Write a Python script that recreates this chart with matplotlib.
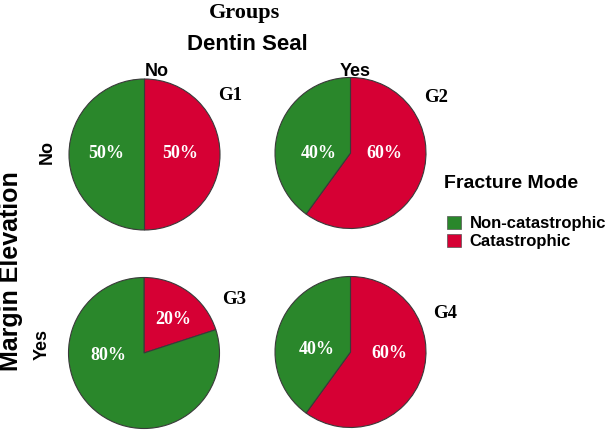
import matplotlib
matplotlib.use("Agg")
import matplotlib.pyplot as plt
import matplotlib.patches as mpatches

# data: fracture mode share per group (%)
groups = ["G1", "G2", "G3", "G4"]
catastrophic = [50, 60, 20, 60]
non_catastrophic = [50, 40, 80, 40]
modes = ["Non-catastrophic", "Catastrophic"]
dentin_seal = ["No", "Yes"]
margin_elev = ["No", "Yes"]

green = "#2a872b"
red = "#d60034"
sans = "Liberation Sans"
serif = "Liberation Serif"

W, H = 607, 430
fig = plt.figure(figsize=(W / 100, H / 100), dpi=100)
ax = fig.add_axes([0, 0, 1, 1])

# pie centres in pixel coords (top-left origin), radius
centres = [(144.5, 154.5), (350.5, 153), (144, 353), (350.5, 352)]
rad = 75.5
# percent label offsets (cat, non-cat) and group label positions
cat_off = [(36, -1), (33.5, 0), (29, -33), (38.5, 2)]
non_off = [(-38.5, -1), (-31.5, 0), (-36, 2), (-33.5, -2)]
glab_pos = [(230, 96), (436, 98), (234, 300), (445, 313)]

for i, g in enumerate(groups):
    cx, cy = centres[i]
    ax.pie([catastrophic[i], non_catastrophic[i]], colors=[red, green],
           startangle=90, counterclock=False, center=(cx, H - cy), radius=rad,
           wedgeprops=dict(edgecolor="#3a3a3a", linewidth=0.8), frame=True)
    ax.text(cx + cat_off[i][0], H - (cy + cat_off[i][1]), "%d%%" % catastrophic[i],
            color="white", fontsize=13, fontweight="bold", family=serif,
            ha="center", va="center")
    ax.text(cx + non_off[i][0], H - (cy + non_off[i][1]), "%d%%" % non_catastrophic[i],
            color="white", fontsize=13, fontweight="bold", family=serif,
            ha="center", va="center")
    ax.text(glab_pos[i][0], H - glab_pos[i][1], g, fontsize=13.5, fontweight="bold",
            family=serif, ha="center", va="center")

ax.set_xlim(0, W)
ax.set_ylim(0, H)
ax.set_aspect("equal")
ax.axis("off")

# headers
fig.text(245 / W, 1 - 13 / H, "Groups", fontsize=16, fontweight="bold", family=serif,
         ha="center", va="center")
fig.text(247 / W, 1 - 45 / H, "Dentin Seal", fontsize=16, fontweight="bold", family=sans,
         ha="center", va="center")
fig.text(157 / W, 1 - 72 / H, dentin_seal[0], fontsize=13, fontweight="bold", family=sans,
         ha="center", va="center")
fig.text(355 / W, 1 - 72 / H, dentin_seal[1], fontsize=13, fontweight="bold", family=sans,
         ha="center", va="center")
fig.text(11 / W, 1 - 271 / H, "Margin Elevation", fontsize=18, fontweight="bold", family=sans,
         ha="center", va="center", rotation=90)
fig.text(47 / W, 1 - 152 / H, margin_elev[0], fontsize=13, fontweight="bold", family=sans,
         ha="center", va="center", rotation=90)
fig.text(42 / W, 1 - 345 / H, margin_elev[1], fontsize=13, fontweight="bold", family=sans,
         ha="center", va="center", rotation=90)

# legend
fig.text(444 / W, 1 - 183 / H, "Fracture Mode", fontsize=14, fontweight="bold", family=sans,
         ha="left", va="center")
handles = [mpatches.Patch(facecolor=green, edgecolor="#555555", linewidth=0.5),
           mpatches.Patch(facecolor=red, edgecolor="#555555", linewidth=0.5)]
fig.legend(handles, modes, loc="upper left", bbox_to_anchor=(447 / W, 1 - 216 / H),
           frameon=False, borderpad=0, borderaxespad=0, handlelength=0.85,
           handleheight=0.85, handletextpad=0.5, labelspacing=0.15,
           prop=dict(family=sans, weight="bold", size=12))

fig.savefig("out.png", dpi=100)
